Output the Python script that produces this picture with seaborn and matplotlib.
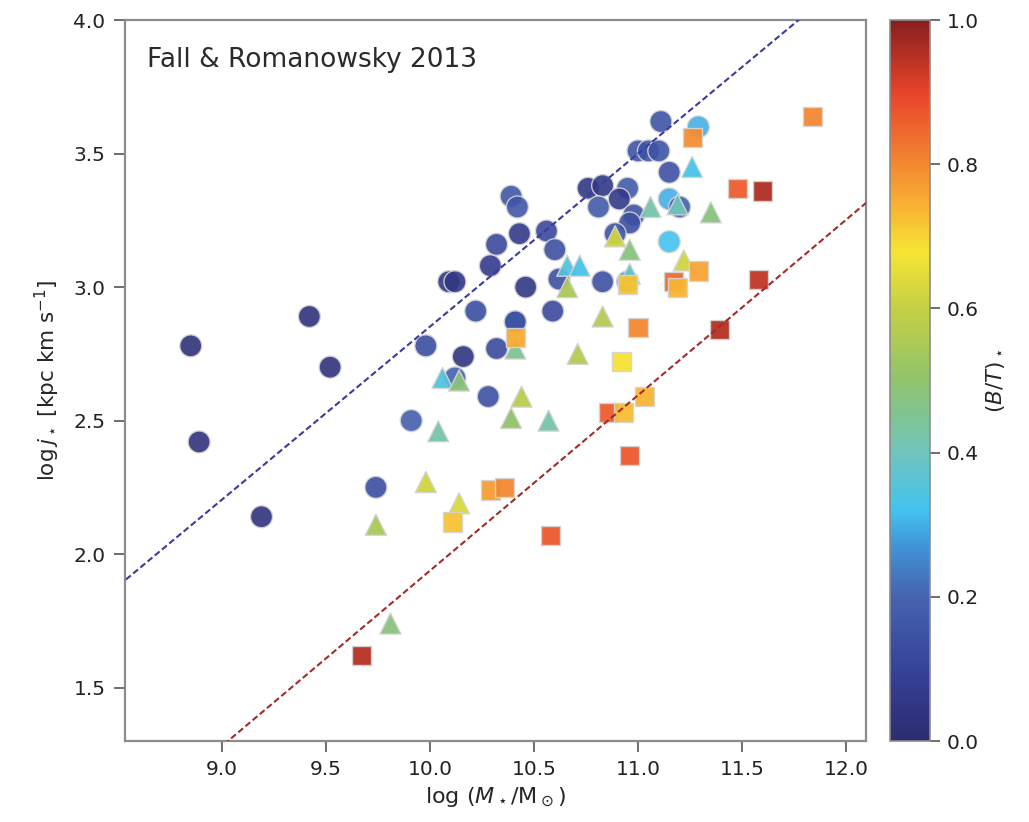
import numpy as np
import pandas as pd
import matplotlib
matplotlib.use("Agg")
import matplotlib.pyplot as plt
import seaborn as sns
from matplotlib.colors import LinearSegmentedColormap, Normalize
from matplotlib.cm import ScalarMappable

# ---------------- data ----------------
# disks / spirals (circles)
circ_logM = [8.85, 8.89, 9.19, 9.42, 9.52, 9.74, 9.91, 9.98, 10.09, 10.12,
             10.16, 10.22, 10.29, 10.32, 10.28, 10.32, 10.39, 10.42, 10.43, 10.46,
             10.41, 10.56, 10.60, 10.59, 10.62, 10.76, 10.83, 10.95, 10.81, 10.91,
             10.98, 10.96, 10.89, 10.83, 10.95, 11.00, 11.05, 11.10, 11.11, 11.29,
             11.15, 11.15, 11.20, 11.15, 10.12, 10.41]
circ_logj = [2.78, 2.42, 2.14, 2.89, 2.70, 2.25, 2.50, 2.78, 3.02, 3.02,
             2.74, 2.91, 3.08, 3.16, 2.59, 2.77, 3.34, 3.30, 3.20, 3.00,
             2.87, 3.21, 3.14, 2.91, 3.03, 3.37, 3.38, 3.37, 3.30, 3.33,
             3.27, 3.24, 3.20, 3.02, 3.02, 3.51, 3.51, 3.51, 3.62, 3.60,
             3.43, 3.33, 3.30, 3.17, 2.66, 2.87]
circ_bt = [0.02, 0.03, 0.03, 0.03, 0.03, 0.13, 0.18, 0.13, 0.05, 0.05,
           0.04, 0.13, 0.07, 0.12, 0.14, 0.12, 0.16, 0.16, 0.06, 0.05,
           0.15, 0.12, 0.14, 0.12, 0.14, 0.05, 0.05, 0.17, 0.17, 0.06,
           0.15, 0.14, 0.15, 0.14, 0.28, 0.15, 0.15, 0.15, 0.15, 0.30,
           0.14, 0.30, 0.18, 0.32, 0.18, 0.15]

# lenticulars / intermediate (triangles)
tri_logM = [9.81, 9.74, 9.98, 10.14, 10.04, 10.06, 10.14, 10.44, 10.39, 10.57,
            10.41, 10.71, 10.83, 10.66, 10.66, 10.72, 10.89, 10.96, 10.96, 11.06,
            11.19, 11.26, 11.35, 11.22]
tri_logj = [1.74, 2.11, 2.27, 2.19, 2.46, 2.66, 2.65, 2.59, 2.51, 2.50,
            2.77, 2.75, 2.89, 3.00, 3.08, 3.08, 3.19, 3.14, 3.05, 3.30,
            3.31, 3.45, 3.28, 3.10]
tri_bt = [0.48, 0.55, 0.62, 0.63, 0.42, 0.35, 0.48, 0.58, 0.50, 0.42,
          0.45, 0.57, 0.57, 0.55, 0.35, 0.33, 0.62, 0.48, 0.38, 0.42,
          0.40, 0.33, 0.48, 0.62]

# ellipticals / bulge dominated (squares)
sq_logM = [9.67, 10.11, 10.29, 10.36, 10.41, 10.58, 10.86, 10.93, 11.03, 10.96,
           10.92, 11.00, 10.95, 11.17, 11.19, 11.29, 11.26, 11.48, 11.60, 11.58,
           11.39, 11.84]
sq_logj = [1.62, 2.12, 2.24, 2.25, 2.81, 2.07, 2.53, 2.53, 2.59, 2.37,
           2.72, 2.85, 3.01, 3.02, 3.00, 3.06, 3.56, 3.37, 3.36, 3.03,
           2.84, 3.64]
sq_bt = [0.95, 0.72, 0.77, 0.80, 0.75, 0.87, 0.86, 0.73, 0.74, 0.87,
         0.68, 0.80, 0.72, 0.84, 0.74, 0.76, 0.79, 0.86, 0.96, 0.94,
         0.95, 0.80]

# fitted relations: log j = slope * (log M - 11) + zero point
disk_slope = 0.648
disk_zero = 3.50
bulge_slope = 0.657
bulge_zero = 2.595

x_ticks = [9.0, 9.5, 10.0, 10.5, 11.0, 11.5, 12.0]
y_ticks = [1.5, 2.0, 2.5, 3.0, 3.5, 4.0]
cb_ticks = [0.0, 0.2, 0.4, 0.6, 0.8, 1.0]

# ---------------- style ----------------
sns.set_style("ticks")
plt.rcParams["font.family"] = ["DejaVu Sans"]
plt.rcParams["mathtext.fontset"] = "dejavusans"

cmap = LinearSegmentedColormap.from_list("bt", [
    (0.00, "#2c2c70"), (0.10, "#37439a"), (0.20, "#4664b0"), (0.27, "#4094d8"),
    (0.32, "#43c3ef"), (0.40, "#70c4bc"), (0.50, "#90c36c"), (0.60, "#c4d044"),
    (0.68, "#f6e434"), (0.75, "#f8ad32"), (0.82, "#f17a31"), (0.90, "#e8442b"),
    (1.00, "#8a1f1f")])
norm = Normalize(0, 1)

fig = plt.figure(figsize=(10.29, 8.22), dpi=100)
ax = fig.add_axes([0.1215, 0.0985, 0.7201, 0.8771])
cax = fig.add_axes([0.8649, 0.0985, 0.0389, 0.8771])

df_c = pd.DataFrame({"logM": circ_logM, "logj": circ_logj, "bt": circ_bt})
df_t = pd.DataFrame({"logM": tri_logM, "logj": tri_logj, "bt": tri_bt})
df_s = pd.DataFrame({"logM": sq_logM, "logj": sq_logj, "bt": sq_bt})

common = dict(x="logM", y="logj", hue="bt", palette=cmap, hue_norm=(0, 1),
              legend=False, ax=ax, edgecolor="#d4d4d4", linewidth=1.0)
sns.scatterplot(data=df_c, marker="o", s=250, alpha=0.9, zorder=3, **common)
sns.scatterplot(data=df_t, marker="^", s=230, alpha=0.95, zorder=3, **common)
sns.scatterplot(data=df_s, marker="s", s=190, alpha=0.95, zorder=3, **common)

xx = np.array([8.4, 12.2])
ax.plot(xx, disk_slope * (xx - 11) + disk_zero, ls=(0, (3, 1.5)), lw=1.5,
        color="#3b3b9e", zorder=4)
ax.plot(xx, bulge_slope * (xx - 11) + bulge_zero, ls=(0, (3, 1.5)), lw=1.5,
        color="#a52a2a", zorder=4)

ax.set_xlim(8.534, 12.096)
ax.set_ylim(1.3, 4.0)
ax.set_xticks(x_ticks)
ax.set_yticks(y_ticks)
ax.set_xticklabels([f"{v:.1f}" for v in x_ticks])
ax.set_yticklabels([f"{v:.1f}" for v in y_ticks])

spine_col = "#8c8c8c"
for sp in ax.spines.values():
    sp.set_visible(True)
    sp.set_color(spine_col)
    sp.set_linewidth(1.6)
ax.tick_params(direction="out", length=8, width=1.2, color="#555555",
               labelsize=14.5, labelcolor="#222222", pad=6)

ax.set_xlabel(r"$\log\,(M_\star/\mathrm{M}_\odot)$", fontsize=16, labelpad=4)
ax.set_ylabel(r"$\log j_\star$ [kpc km s$^{-1}$]", fontsize=15.5, labelpad=8)

ax.text(0.03, 0.945, "Fall & Romanowsky 2013", transform=ax.transAxes,
        fontsize=19, va="center", ha="left", color="#2a2a2a")

sm = ScalarMappable(norm=norm, cmap=cmap)
cb = fig.colorbar(sm, cax=cax, ticks=cb_ticks)
cb.ax.set_yticklabels([f"{v:.1f}" for v in cb_ticks])
cb.outline.set_edgecolor(spine_col)
cb.outline.set_linewidth(1.2)
cb.ax.tick_params(direction="out", length=7, width=1.2, color="#555555",
                  labelsize=14.5, labelcolor="#222222", pad=5)
cb.set_label(r"$(B/T)_\star$", fontsize=15.5, labelpad=4)

fig.savefig("out.png", dpi=100)
